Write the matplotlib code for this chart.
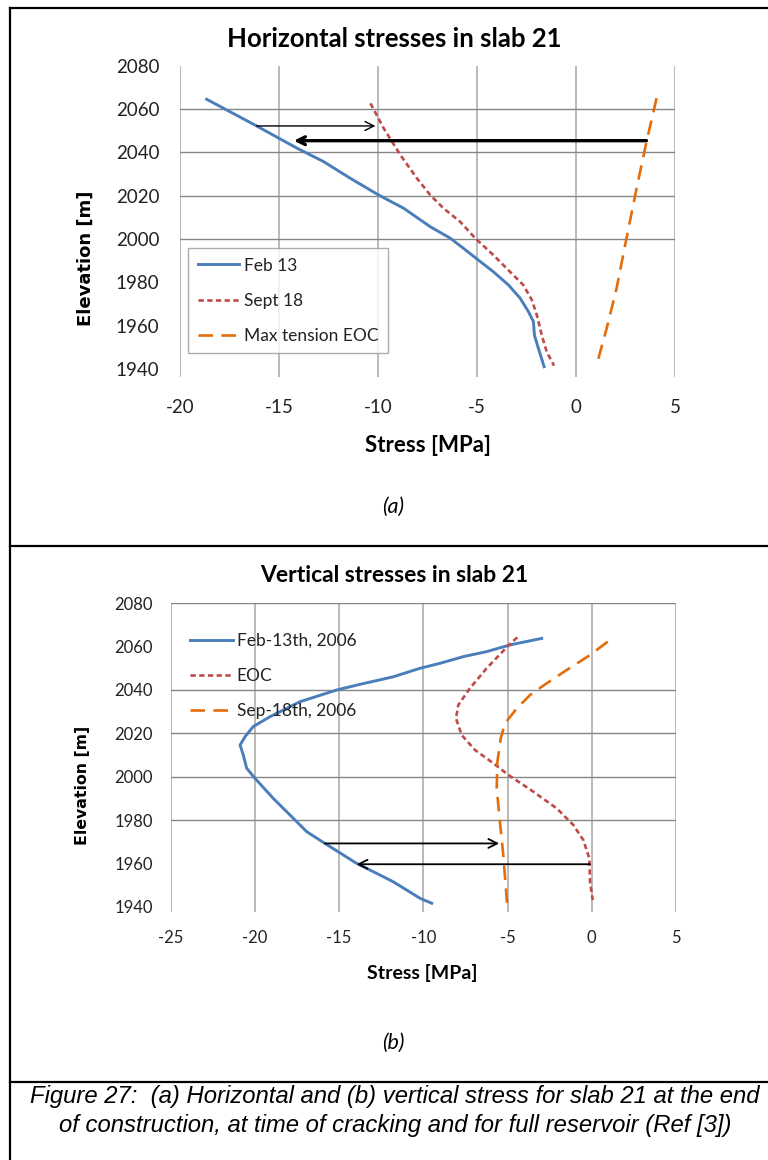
import matplotlib
matplotlib.use("Agg")
import matplotlib.pyplot as plt
from matplotlib.lines import Line2D

plt.rcParams["axes.unicode_minus"] = False

W, H = 768, 1160

# ---- data (a) horizontal stresses ----
h_feb_x = [-18.65, -16.13, -15.0, -14.08, -12.74, -11.39, -9.96, -8.7, -7.36, -6.35, -5.68,
           -5.0, -4.17, -3.41, -2.82, -2.4, -2.15, -2.1, -1.9, -1.61]
h_feb_y = [2064.5, 2052.2, 2046.5, 2041.9, 2035.7, 2028.0, 2020.3, 2014.2, 2005.7, 2000.4, 1995.7,
           1990.8, 1984.9, 1978.8, 1972.7, 1966.5, 1961.9, 1955.7, 1949.6, 1941.1]
h_sep_x = [-10.38, -9.71, -8.87, -8.03, -7.36, -6.69, -5.85, -5.09, -4.17, -3.33, -2.66,
           -2.23, -1.98, -1.73, -1.48, -1.11]
h_sep_y = [2062.6, 2051.1, 2038.8, 2028.0, 2020.3, 2014.2, 2008.0, 2000.4, 1992.6, 1984.9, 1978.8,
           1971.9, 1965.0, 1955.7, 1948.0, 1941.6]
h_eoc_x = [4.07, 3.56, 3.06, 2.55, 2.05, 1.55, 1.04]
h_eoc_y = [2065.0, 2044.9, 2023.4, 2000.4, 1977.3, 1958.8, 1941.9]
# arrows: (x_from, x_to, y)
h_arrows = [(-16.13, -10.13, 2052.2), (3.56, -14.25, 2045.4)]

# ---- data (b) vertical stresses ----
v_feb_x = [-2.97, -4.85, -6.24, -7.62, -9.01, -10.2, -11.78, -13.76, -15.14, -17.32, -19.1,
           -20.1, -20.59, -20.88, -20.69, -20.49, -19.99, -18.91, -17.72, -16.92, -15.84,
           -13.96, -12.57, -11.78, -10.2, -9.5]
v_feb_y = [2063.8, 2060.8, 2057.7, 2055.4, 2052.3, 2050.0, 2046.1, 2042.6, 2040.0, 2034.6, 2027.7,
           2023.1, 2018.4, 2014.6, 2010.0, 2003.9, 1999.2, 1990.0, 1980.8, 1974.6, 1969.2,
           1960.0, 1954.6, 1951.5, 1943.9, 1941.6]
v_eoc_x = [-4.42, -5.01, -6.24, -7.23, -7.92, -8.06, -7.72, -6.93, -5.84, -4.95, -3.47,
           -2.08, -1.09, -0.5, -0.14, -0.1, 0.06]
v_eoc_y = [2064.3, 2060.0, 2050.0, 2040.8, 2033.1, 2026.9, 2019.2, 2012.3, 2006.2, 2000.8, 1993.1,
           1985.4, 1977.7, 1970.8, 1962.3, 1951.5, 1943.1]
v_sep_x = [0.95, -0.1, -1.49, -2.67, -3.66, -4.45, -5.15, -5.4, -5.6, -5.64, -5.45, -5.25, -5.01]
v_sep_y = [2062.3, 2056.1, 2049.2, 2043.1, 2037.7, 2031.5, 2024.6, 2017.7, 2006.9, 1994.6,
           1979.2, 1963.8, 1940.0]
v_arrows = [(-15.84, -5.49, 1969.2), (-0.1, -13.96, 1959.6)]

y_ticks = [1940, 1960, 1980, 2000, 2020, 2040, 2060, 2080]
h_xticks = [-20, -15, -10, -5, 0, 5]
v_xticks = [-25, -20, -15, -10, -5, 0, 5]

BLUE = "#4a7ebb"
RED = "#be4b48"
ORANGE = "#e46c0a"
FONT = "Lato"


def px_axes(fig, left, top, right, bottom):
    return fig.add_axes([left / W, 1 - bottom / H, (right - left) / W, (bottom - top) / H])


def style_axes(ax, xticks, xlim, ylim, hgrid, fs, xpad, ypad):
    ax.set_xlim(*xlim)
    ax.set_ylim(*ylim)
    for s in ax.spines.values():
        s.set_visible(False)
    for x in xticks:
        ax.axvline(x, color="#b4b4b4", lw=1.3, zorder=0)
    for y in hgrid:
        ax.axhline(y, color="#868686", lw=1.0, zorder=0)
    ax.set_xticks(xticks)
    ax.set_yticks(y_ticks)
    ax.tick_params(length=0, labelsize=fs)
    ax.tick_params(axis="x", pad=xpad)
    ax.tick_params(axis="y", pad=ypad)
    for lab in ax.get_xticklabels() + ax.get_yticklabels():
        lab.set_family(FONT)
        lab.set_color("#222222")


fig = plt.figure(figsize=(W / 100, H / 100), dpi=100)

# ---------- (a) ----------
ax1 = px_axes(fig, 180, 65.7, 675, 376.7)
style_axes(ax1, h_xticks, (-20, 5), (1936.5, 2080), [2000, 2020, 2040, 2060], 13.5, 16, 15)
ax1.plot(h_feb_x, h_feb_y, color=BLUE, lw=2.1, label="Feb 13")
ax1.plot(h_sep_x, h_sep_y, color=RED, lw=1.9, dashes=(2.0, 1.3), label="Sept 18")
ax1.plot(h_eoc_x, h_eoc_y, color=ORANGE, lw=1.9, dashes=(5.5, 3.2), label="Max tension EOC")
ax1.annotate("", xy=(h_arrows[0][1], h_arrows[0][2]), xytext=(h_arrows[0][0], h_arrows[0][2]),
             arrowprops=dict(arrowstyle="->", color="black", lw=1.0, mutation_scale=16,
                             shrinkA=0, shrinkB=0))
ax1.annotate("", xy=(h_arrows[1][1], h_arrows[1][2]), xytext=(h_arrows[1][0], h_arrows[1][2]),
             arrowprops=dict(arrowstyle="->", color="black", lw=2.4, mutation_scale=14,
                             shrinkA=0, shrinkB=0))
leg1 = ax1.legend(loc="upper left", bbox_to_anchor=(188 / W, 1 - 248 / H), bbox_transform=fig.transFigure,
                  prop={"family": FONT, "size": 12.5}, frameon=True, fancybox=False,
                  edgecolor="#9a9a9a", borderpad=0.55, labelspacing=1.1, handlelength=2.4,
                  handletextpad=0.25, borderaxespad=0)
leg1.get_frame().set_linewidth(1.0)
for t in leg1.get_texts():
    t.set_color("#222222")

fig.text(394 / W, 1 - 39 / H, "Horizontal stresses in slab 21", family=FONT, weight="bold",
         fontsize=18.5, ha="center", va="center")
fig.text(86 / W, 1 - 258 / H, "Elevation [m]", family="DejaVu Sans", weight="bold", fontsize=13,
         rotation=90, ha="center", va="center")
fig.text(428 / W, 1 - 446 / H, "Stress [MPa]", family=FONT, weight="bold", fontsize=16,
         ha="center", va="center")
fig.text(393 / W, 1 - 507 / H, "(a)", family=FONT, style="italic", fontsize=15.5,
         ha="center", va="center")

# ---------- (b) ----------
ax2 = px_axes(fig, 170.7, 603.3, 675.9, 911.7)
style_axes(ax2, v_xticks, (-25, 5), (1937.7, 2080), [1980, 2000, 2020, 2040, 2080], 12, 13, 13)
ax2.plot(v_feb_x, v_feb_y, color=BLUE, lw=2.1, label="Feb-13th, 2006")
ax2.plot(v_eoc_x, v_eoc_y, color=RED, lw=1.9, dashes=(2.0, 1.3), label="EOC")
ax2.plot(v_sep_x, v_sep_y, color=ORANGE, lw=1.9, dashes=(5.5, 3.2), label="Sep-18th, 2006")
for x0, x1, y in v_arrows:
    ax2.annotate("", xy=(x1, y), xytext=(x0, y),
                 arrowprops=dict(arrowstyle="->", color="black", lw=1.3, mutation_scale=16,
                                 shrinkA=0, shrinkB=0))
leg2 = ax2.legend(loc="upper left", bbox_to_anchor=(190 / W, 1 - 633 / H), bbox_transform=fig.transFigure,
                  prop={"family": FONT, "size": 12.5}, frameon=False, borderpad=0,
                  labelspacing=1.1, handlelength=2.5, handletextpad=0.2, borderaxespad=0)
for t in leg2.get_texts():
    t.set_color("#222222")

fig.text(394 / W, 1 - 575.6 / H, "Vertical stresses in slab 21", family=FONT, weight="bold",
         fontsize=16.5, ha="center", va="center")
fig.text(83 / W, 1 - 785 / H, "Elevation [m]", family="DejaVu Sans", weight="bold", fontsize=11.3,
         rotation=90, ha="center", va="center")
fig.text(422 / W, 1 - 973 / H, "Stress [MPa]", family=FONT, weight="bold", fontsize=14,
         ha="center", va="center")
fig.text(393 / W, 1 - 1043 / H, "(b)", family=FONT, style="italic", fontsize=15.5,
         ha="center", va="center")

# ---------- caption ----------
fig.text(395 / W, 1 - 1097 / H,
         "Figure 27:  (a) Horizontal and (b) vertical stress for slab 21 at the end",
         family="Liberation Sans", style="italic", fontsize=17.2, ha="center", va="center")
fig.text(395 / W, 1 - 1125.5 / H,
         "of construction, at time of cracking and for full reservoir (Ref [3])",
         family="Liberation Sans", style="italic", fontsize=17.2, ha="center", va="center")

# ---------- table borders ----------
def hline(y, x0=10, x1=W):
    fig.add_artist(Line2D([x0 / W, x1 / W], [1 - y / H, 1 - y / H], color="black", lw=1.6))


hline(7.5)
hline(546)
hline(1082)
fig.add_artist(Line2D([10 / W, 10 / W], [1 - 7.5 / H, 0], color="black", lw=1.6))

fig.savefig("out.png", dpi=100)
